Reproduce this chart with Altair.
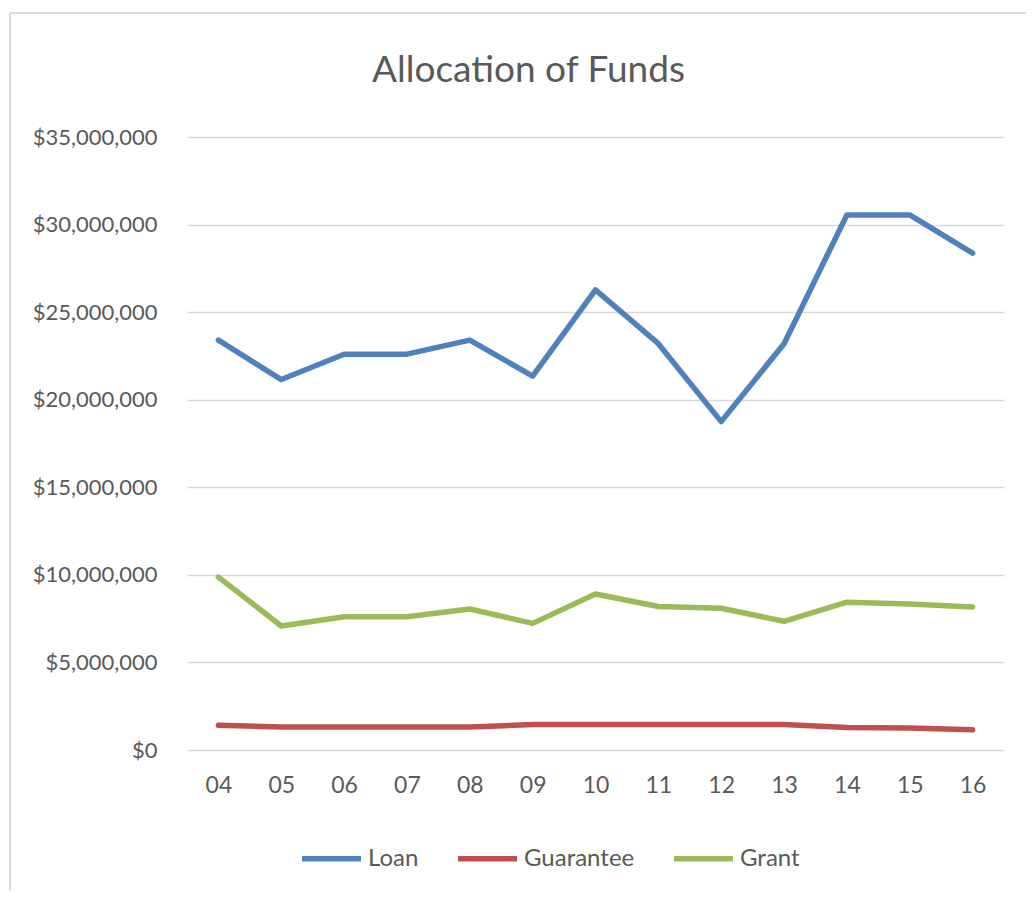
import altair as alt
import pandas as pd

years = ["04", "05", "06", "07", "08", "09", "10", "11", "12", "13", "14", "15", "16"]
loan = [23.4, 21.15, 22.6, 22.6, 23.4, 21.35, 26.27, 23.2, 18.75, 23.2, 30.55, 30.55, 28.37]
guarantee = [1.41, 1.32, 1.32, 1.32, 1.32, 1.45, 1.45, 1.45, 1.45, 1.45, 1.28, 1.26, 1.15]
grant = [9.87, 7.08, 7.61, 7.61, 8.05, 7.23, 8.91, 8.19, 8.09, 7.35, 8.44, 8.34, 8.17]
series = ["Loan", "Guarantee", "Grant"]
colors = ["#4F81BD", "#C0504D", "#9BBB59"]
y_ticks = [0, 5e6, 10e6, 15e6, 20e6, 25e6, 30e6, 35e6]

rows = []
for name, vals in zip(series, [loan, guarantee, grant]):
    for i, (yr, v) in enumerate(zip(years, vals)):
        rows.append({"Year": yr, "Series": name, "Value": v * 1e6, "order": i})
df = pd.DataFrame(rows)

FONT = "Lato"
TXT = "#595959"

lines = alt.Chart(df).mark_line(strokeWidth=5.5, strokeCap="round", strokeJoin="round").encode(
    x=alt.X("Year:O", sort=years, title=None,
            scale=alt.Scale(paddingInner=1, paddingOuter=0.5),
            axis=alt.Axis(labelAngle=0, domain=False, ticks=False, grid=False,
                          labelFont=FONT, labelFontSize=23, labelColor=TXT, labelPadding=24)),
    y=alt.Y("Value:Q", title=None, scale=alt.Scale(domain=[0, 35e6], nice=False),
            axis=alt.Axis(values=y_ticks, format="$,.0f", domain=False, ticks=False,
                          gridColor="#D9D9D9", gridWidth=1.5,
                          labelFont=FONT, labelFontSize=22, labelColor=TXT, labelPadding=30)),
    color=alt.Color("Series:N", sort=series,
                    scale=alt.Scale(domain=series, range=colors),
                    legend=alt.Legend(title=None, orient="none", direction="horizontal",
                                      legendX=112, legendY=689,
                                      symbolType="stroke", symbolSize=3481, symbolStrokeWidth=5.5,
                                      labelFont=FONT, labelFontSize=24, labelColor=TXT,
                                      labelOffset=4, columnPadding=28)),
    order="order:Q",
)

border_left = alt.Chart(pd.DataFrame({"a": [0]})).mark_rule(color="#D9D9D9", strokeWidth=2, clip=False).encode(
    x=alt.value(-177), y=alt.value(-124), y2=alt.value(760))
border_top = alt.Chart(pd.DataFrame({"a": [0]})).mark_rule(color="#D9D9D9", strokeWidth=2, clip=False).encode(
    x=alt.value(-177), x2=alt.value(840), y=alt.value(-124))

chart = alt.layer(border_left, border_top, lines).properties(
    width=817, height=613,
    title=alt.TitleParams("Allocation of Funds", font=FONT, fontSize=37,
                          fontWeight="normal", color=TXT, anchor="middle", dx=-67, offset=-78),
    autosize=alt.AutoSizeParams(type="none"),
    padding={"left": 179, "top": 129, "right": 22, "bottom": 141},
).configure_view(strokeWidth=0, stroke="transparent")

chart.save("out.html", embed_options={"renderer": "svg", "actions": False})
